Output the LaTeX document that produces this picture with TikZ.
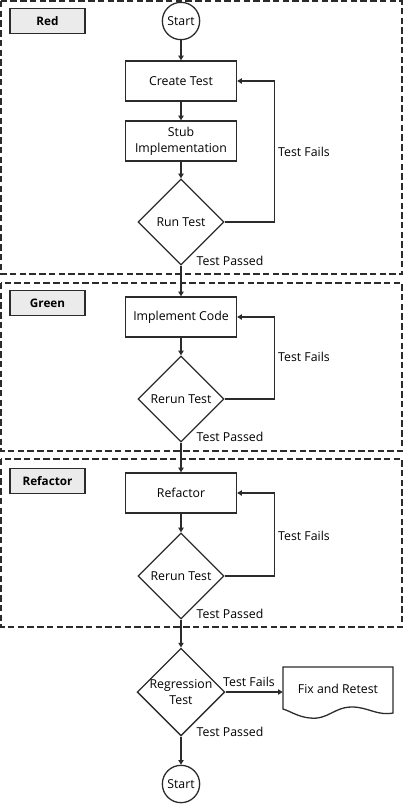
\documentclass[tikz,border=0pt]{standalone}
\usepackage{fontspec}
\setmainfont{Open Sans}
\usetikzlibrary{shapes.geometric,arrows.meta}

\definecolor{tagfill}{HTML}{EBEBEB}
\definecolor{inkgray}{HTML}{2B2B2B}

\tikzset{
  stepbox/.style={rectangle,draw=inkgray,line width=1.1pt,minimum width=3.33cm,minimum height=1.2cm,align=center,inner sep=2pt},
  decision/.style={diamond,draw=inkgray,line width=1.1pt,aspect=1,minimum width=2.58cm,minimum height=2.58cm,inner sep=0pt,align=center},
  terminal/.style={circle,draw=inkgray,line width=1.1pt,minimum size=1.12cm,inner sep=0pt},
  phasetag/.style={rectangle,draw=inkgray,line width=1.1pt,fill=tagfill,minimum width=2.25cm,minimum height=0.75cm,font=\bfseries},
  phaseframe/.style={draw=inkgray,line width=1.1pt,dash pattern=on 5.5pt off 2.8pt},
  flow/.style={draw=inkgray,line width=1.1pt,-{Triangle[length=4pt,width=4.5pt]}},
  note/.style={inner sep=1pt}
}

\begin{document}
\begin{tikzpicture}[x=0.03cm,y=-0.03cm,font=\fontsize{10.5}{13.5}\selectfont]
\useasboundingbox (0,0) rectangle (403,806);
% phase frames
\path[phaseframe] (1,1) rectangle (402,274);
\path[phaseframe] (1,283) rectangle (402,451);
\path[phaseframe] (1,459) rectangle (402,627);
\node[phasetag] (tagred) at (47.5,21) {Red};
\node[phasetag] (taggreen) at (47.5,303) {Green};
\node[phasetag] (tagrefactor) at (47.5,481) {Refactor};
% red
\node[terminal] (start) at (181,21) {Start};
\node[stepbox] (create) at (181,81) {Create Test};
\node[stepbox] (stub) at (181,141) {Stub\\Implementation};
\node[decision] (run) at (181,222) {Run Test};
% green
\node[stepbox] (implement) at (181,317) {Implement Code};
\node[decision] (rerungreen) at (181,399) {Rerun Test};
% refactor
\node[stepbox] (refactor) at (181,493) {Refactor};
\node[decision] (rerunrefactor) at (181,576) {Rerun Test};
% regression
\node[decision] (regression) at (181,692) {Regression\\Test};
\node[rectangle,minimum width=3.3cm,minimum height=1.2cm] (fix) at (338,689) {Fix and Retest};
\node[terminal] (finish) at (181,784) {Start};
\draw[draw=inkgray,line width=1.1pt] (283,667) -- (393,667) -- (393,713) .. controls (377,716) and (368,707) .. (352,707) .. controls (334,707) and (328,720) .. (310,718) .. controls (298,717) and (290,711) .. (283,709) -- cycle;
% flow
\path[flow] (start) -- (create);
\path[flow] (create) -- (stub);
\path[flow] (stub) -- (run);
\path[flow] (run.east) -- ++(50,0) |- (create.east);
\path[flow] (run.south) -- (implement.north);
\path[flow] (implement) -- (rerungreen);
\path[flow] (rerungreen.east) -- ++(50,0) |- (implement.east);
\path[flow] (rerungreen.south) -- (refactor.north);
\path[flow] (refactor) -- (rerunrefactor);
\path[flow] (rerunrefactor.east) -- ++(50,0) |- (refactor.east);
\path[flow] (rerunrefactor.south) -- (regression.north);
\path[flow] (regression.east) -- (fix.west |- regression.east);
\path[flow] (regression.south) -- (finish.north);
% labels
\node[note] (failsred) at (304,152) {Test Fails};
\node[note] (passred) at (230,261) {Test Passed};
\node[note] (failsgreen) at (304,357) {Test Fails};
\node[note] (passgreen) at (230,437) {Test Passed};
\node[note] (failsrefactor) at (304,536) {Test Fails};
\node[note] (passrefactor) at (230,614) {Test Passed};
\node[note] (failsregression) at (249,682) {Test Fails};
\node[note] (passregression) at (230,732) {Test Passed};
\end{tikzpicture}
\end{document}
